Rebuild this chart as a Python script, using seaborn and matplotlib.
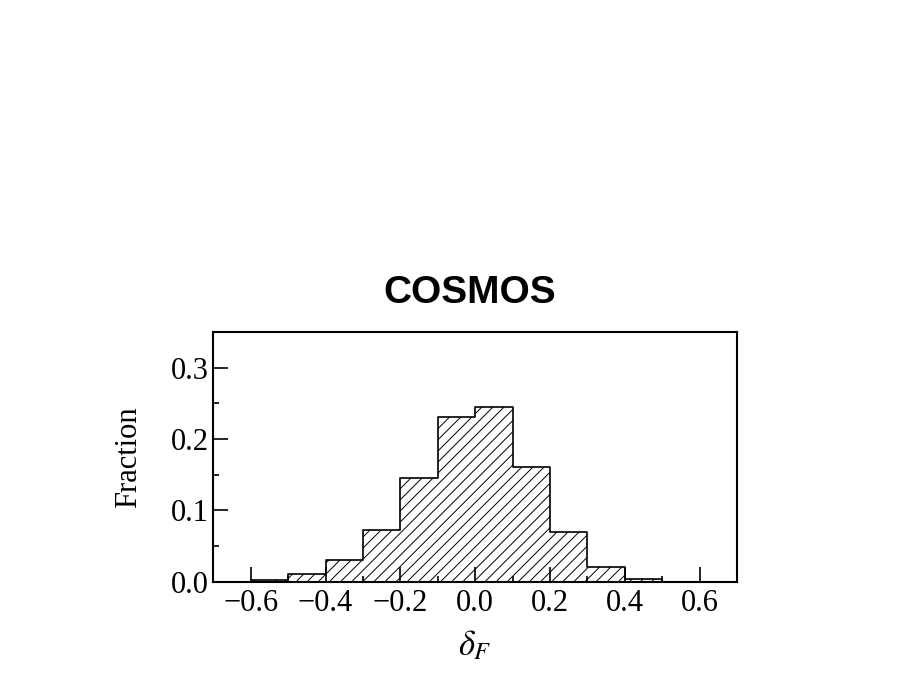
import numpy as np
import pandas as pd
import matplotlib
matplotlib.use('Agg')
import matplotlib.pyplot as plt
import seaborn as sns
from matplotlib.ticker import MultipleLocator

# binned fractions
bin_edges = [-0.6, -0.5, -0.4, -0.3, -0.2, -0.1, 0.0, 0.1, 0.2, 0.3, 0.4, 0.5]
fractions = [0.003, 0.011, 0.031, 0.073, 0.146, 0.231, 0.245, 0.161, 0.070, 0.021, 0.004]
x_ticks = [-0.6, -0.4, -0.2, 0.0, 0.2, 0.4, 0.6]
y_ticks = [0.0, 0.1, 0.2, 0.3]

centers = [(a + b) / 2 for a, b in zip(bin_edges[:-1], bin_edges[1:])]
df = pd.DataFrame({'delta': centers, 'frac': fractions})

sns.set_style('white')
plt.rcParams['font.family'] = ['Liberation Serif', 'DejaVu Serif']
plt.rcParams['mathtext.fontset'] = 'stix'
plt.rcParams['hatch.linewidth'] = 0.7
plt.rcParams['hatch.color'] = 'black'
plt.rcParams['text.color'] = 'black'
plt.rcParams['axes.labelcolor'] = 'black'
plt.rcParams['xtick.color'] = 'black'
plt.rcParams['ytick.color'] = 'black'

fig = plt.figure(figsize=(9, 6.75), dpi=100)
ax = fig.add_axes([0.237, 0.138, 0.582, 0.370])

sns.histplot(data=df, x='delta', weights='frac', bins=bin_edges, element='step',
             fill=True, color='black', ax=ax)
# white fill with diagonal hatch, black outline
for coll in ax.collections:
    coll.set_facecolor('none')
    coll.set_edgecolor('black')
    coll.set_hatch('///')
    coll.set_linewidth(1.2)
    coll.set_alpha(None)

ax.set_xlim(-0.7, 0.7)
ax.set_ylim(0, 0.35)
ax.set_xticks(x_ticks)
ax.set_xticklabels([f'{t:.1f}'.replace('-', '\u2212') for t in x_ticks])
ax.set_yticks(y_ticks)
ax.set_yticklabels([f'{t:.1f}' for t in y_ticks])
ax.xaxis.set_minor_locator(MultipleLocator(0.1))
ax.yaxis.set_minor_locator(MultipleLocator(0.05))
ax.tick_params(which='both', direction='in', bottom=True, left=True, top=False, right=False,
               labelsize=22, color='black', labelcolor='black')
ax.tick_params(which='major', length=11, width=1.2)
ax.tick_params(which='minor', length=4, width=1.2)
ax.tick_params(axis='x', which='major', pad=5)
ax.tick_params(axis='y', which='major', pad=3)
for s in ax.spines.values():
    s.set_color('black')
    s.set_linewidth(1.5)

ax.set_xlabel(r'$\delta_F$', fontsize=25, labelpad=8)
ax.set_ylabel('Fraction', fontsize=22, labelpad=20)
ax.set_title('COSMOS', fontsize=28, fontweight='bold', family='Liberation Sans', pad=21,
             color='black', x=0.49)

fig.savefig('out.png', dpi=100)
